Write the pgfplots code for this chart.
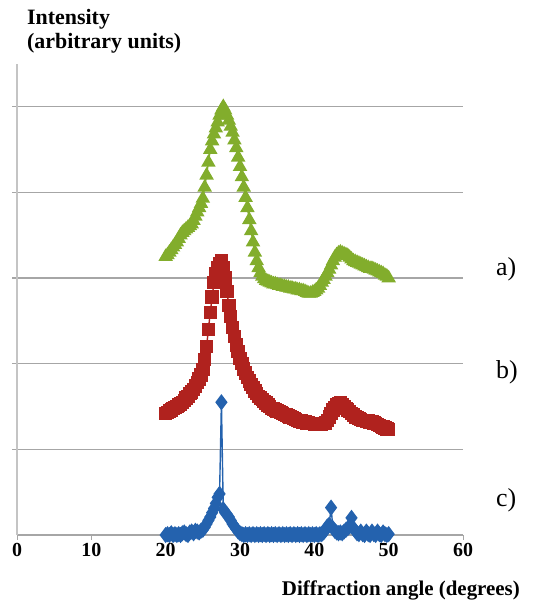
\documentclass[border=0pt]{standalone}
\usepackage{fontspec}
\setmainfont{Liberation Serif}
\usepackage{pgfplots}
\usepackage{pgfplotstable}
\pgfplotsset{compat=1.18}
\definecolor{SerA}{HTML}{82AD2C}
\definecolor{SerB}{HTML}{B0221E}
\definecolor{SerC}{HTML}{2462AE}
\definecolor{GridGray}{HTML}{A6A6A6}
\definecolor{AxisGray}{HTML}{C4C4C4}

% a) green triangles
\pgfplotstableread{
x y
20.00 3.25
20.25 3.27
20.50 3.30
20.75 3.33
21.00 3.36
21.25 3.39
21.50 3.42
21.75 3.46
22.00 3.50
22.25 3.53
22.50 3.55
22.75 3.57
23.00 3.59
23.25 3.61
23.50 3.63
23.75 3.67
24.00 3.72
24.25 3.77
24.50 3.82
24.75 3.87
25.00 3.93
25.25 4.06
25.50 4.20
25.75 4.35
26.00 4.50
26.25 4.60
26.50 4.68
26.75 4.75
27.00 4.82
27.25 4.90
27.50 4.96
27.75 5.00
28.00 4.96
28.25 4.90
28.50 4.84
28.75 4.77
29.00 4.70
29.25 4.61
29.50 4.52
29.75 4.41
30.00 4.30
30.25 4.18
30.50 4.06
30.75 3.94
31.00 3.82
31.25 3.68
31.50 3.55
31.75 3.42
32.00 3.30
32.25 3.20
32.50 3.12
32.75 3.06
33.00 3.02
33.25 2.99
33.50 2.97
33.75 2.96
34.00 2.95
34.25 2.94
34.50 2.93
34.75 2.93
35.00 2.92
35.25 2.91
35.50 2.91
35.75 2.90
36.00 2.90
36.25 2.89
36.50 2.89
36.75 2.88
37.00 2.88
37.25 2.87
37.50 2.87
37.75 2.86
38.00 2.86
38.25 2.85
38.50 2.85
38.75 2.84
39.00 2.83
39.25 2.82
39.50 2.82
39.75 2.83
40.00 2.84
40.25 2.86
40.50 2.88
40.75 2.91
41.00 2.95
41.25 2.98
41.50 3.02
41.75 3.06
42.00 3.10
42.25 3.15
42.50 3.20
42.75 3.24
43.00 3.27
43.25 3.29
43.50 3.30
43.75 3.29
44.00 3.28
44.25 3.27
44.50 3.26
44.75 3.24
45.00 3.22
45.25 3.20
45.50 3.19
45.75 3.18
46.00 3.17
46.25 3.16
46.50 3.15
46.75 3.14
47.00 3.13
47.25 3.12
47.50 3.11
47.75 3.11
48.00 3.10
48.25 3.09
48.50 3.08
48.75 3.07
49.00 3.06
49.25 3.05
49.50 3.03
49.75 3.02
50.00 3.00
}\dataA

% b) red squares
\pgfplotstableread{
x y
20.00 1.42
20.25 1.43
20.50 1.45
20.75 1.46
21.00 1.48
21.25 1.49
21.50 1.50
21.75 1.52
22.00 1.53
22.25 1.55
22.50 1.57
22.75 1.60
23.00 1.62
23.25 1.65
23.50 1.67
23.75 1.70
24.00 1.74
24.25 1.78
24.50 1.82
24.75 1.87
25.00 1.93
25.25 2.05
25.50 2.20
25.75 2.40
26.00 2.60
26.25 2.78
26.50 2.95
26.75 3.05
27.00 3.12
27.25 3.17
27.50 3.20
27.75 3.12
28.00 3.00
28.25 2.84
28.50 2.68
28.75 2.55
29.00 2.42
29.25 2.32
29.50 2.22
29.75 2.14
30.00 2.06
30.25 2.00
30.50 1.94
30.75 1.89
31.00 1.84
31.25 1.80
31.50 1.76
31.75 1.72
32.00 1.68
32.25 1.65
32.50 1.62
32.75 1.60
33.00 1.58
33.25 1.56
33.50 1.54
33.75 1.52
34.00 1.50
34.25 1.48
34.50 1.47
34.75 1.46
35.00 1.45
35.25 1.44
35.50 1.43
35.75 1.42
36.00 1.41
36.25 1.40
36.50 1.39
36.75 1.38
37.00 1.37
37.25 1.36
37.50 1.35
37.75 1.34
38.00 1.33
38.25 1.33
38.50 1.32
38.75 1.32
39.00 1.31
39.25 1.31
39.50 1.30
39.75 1.30
40.00 1.29
40.25 1.29
40.50 1.29
40.75 1.29
41.00 1.29
41.25 1.30
41.50 1.31
41.75 1.34
42.00 1.38
42.25 1.42
42.50 1.46
42.75 1.49
43.00 1.52
43.25 1.53
43.50 1.54
43.75 1.52
44.00 1.50
44.25 1.48
44.50 1.46
44.75 1.44
45.00 1.42
45.25 1.40
45.50 1.38
45.75 1.37
46.00 1.36
46.25 1.35
46.50 1.34
46.75 1.34
47.00 1.33
47.25 1.33
47.50 1.32
47.75 1.32
48.00 1.31
48.25 1.30
48.50 1.29
48.75 1.28
49.00 1.27
49.25 1.26
49.50 1.25
49.75 1.24
50.00 1.23
}\dataB

% c) blue diamonds
\pgfplotstableread{
x y
20.00 0.00
20.25 0.01
20.50 0.00
20.75 0.02
21.00 0.00
21.25 0.01
21.50 0.00
21.75 0.01
22.00 0.00
22.25 0.02
22.50 0.03
22.75 0.01
23.00 0.00
23.25 0.03
23.50 0.04
23.75 0.02
24.00 0.05
24.25 0.04
24.50 0.03
24.75 0.05
25.00 0.06
25.25 0.09
25.50 0.13
25.75 0.17
26.00 0.21
26.25 0.26
26.50 0.31
26.75 0.37
27.00 0.44
27.25 0.48
27.50 1.55
27.75 0.30
28.00 0.26
28.25 0.24
28.50 0.21
28.75 0.17
29.00 0.13
29.25 0.10
29.50 0.07
29.75 0.04
30.00 0.02
30.25 0.01
30.50 0.00
30.75 0.01
31.00 0.00
31.25 0.01
31.50 0.00
31.75 0.01
32.00 0.00
32.25 0.01
32.50 0.00
32.75 0.01
33.00 0.00
33.25 0.01
33.50 0.00
33.75 0.01
34.00 0.00
34.25 0.01
34.50 0.00
34.75 0.01
35.00 0.00
35.25 0.01
35.50 0.00
35.75 0.01
36.00 0.00
36.25 0.01
36.50 0.00
36.75 0.01
37.00 0.00
37.25 0.01
37.50 0.00
37.75 0.01
38.00 0.00
38.25 0.01
38.50 0.00
38.75 0.01
39.00 0.00
39.25 0.01
39.50 0.00
39.75 0.01
40.00 0.00
40.25 0.01
40.50 0.00
40.75 0.01
41.00 0.01
41.25 0.03
41.50 0.06
41.75 0.10
42.00 0.12
42.25 0.32
42.50 0.08
42.75 0.05
43.00 0.03
43.25 0.02
43.50 0.03
43.75 0.02
44.00 0.04
44.25 0.06
44.50 0.08
44.75 0.10
45.00 0.20
45.25 0.08
45.50 0.05
45.75 0.02
46.00 0.01
46.25 0.04
46.50 0.01
46.75 0.00
47.00 0.04
47.25 0.01
47.50 0.00
47.75 0.04
48.00 0.01
48.25 0.00
48.50 0.04
48.75 0.01
49.00 0.00
49.25 0.03
49.50 0.01
49.75 0.00
50.00 0.01
}\dataC

\begin{document}
\begin{tikzpicture}[x=1bp,y=1bp]
\useasboundingbox (0,0) rectangle (555,606);
\begin{axis}[
  at={(17bp,71bp)}, anchor=south west,
  scale only axis,
  width=446bp, height=471bp,
  xmin=0, xmax=60, ymin=0, ymax=5.5,
  xtick={0,10,...,60},
  ytick={1,...,5},
  yticklabels={},
  ymajorgrids,
  grid style={draw=GridGray, line width=1.2pt},
  axis x line=bottom, axis y line=left,
  x axis line style={draw=GridGray, line width=1.2pt, -},
  y axis line style={draw=AxisGray, line width=1.2pt, -},
  xtick style={draw=GridGray, line width=1pt},
  ytick style={draw=GridGray, line width=1.2pt},
  tick align=outside,
  major tick length=5bp,
  /pgf/number format/assume math mode=true,
  tick label style={font=\fontsize{20}{22}\selectfont\bfseries},
  every axis plot/.append style={line width=1.4pt},
  clip=false
]
\addplot[color=SerA, mark=triangle*, mark size=7bp] table {\dataA};
\addplot[color=SerB, mark=square*, mark size=6bp] table {\dataB};
\addplot[color=SerC, mark=diamond*, mark size=7bp] table {\dataC};
\end{axis}
\node[anchor=north west, align=left, inner sep=0pt,
  font=\fontsize{22}{24}\selectfont\bfseries] at (27,597)
  {Intensity\\(arbitrary units)};
\node[anchor=base east, inner sep=0pt,
  font=\fontsize{21}{24}\selectfont\bfseries] at (520,10)
  {Diffraction angle (degrees)};
\node[anchor=west, inner sep=0pt, font=\fontsize{26}{28}\selectfont] at (496,337) {a)};
\node[anchor=west, inner sep=0pt, font=\fontsize{26}{28}\selectfont] at (496,234) {b)};
\node[anchor=west, inner sep=0pt, font=\fontsize{26}{28}\selectfont] at (496,106) {c)};
\end{tikzpicture}
\end{document}
